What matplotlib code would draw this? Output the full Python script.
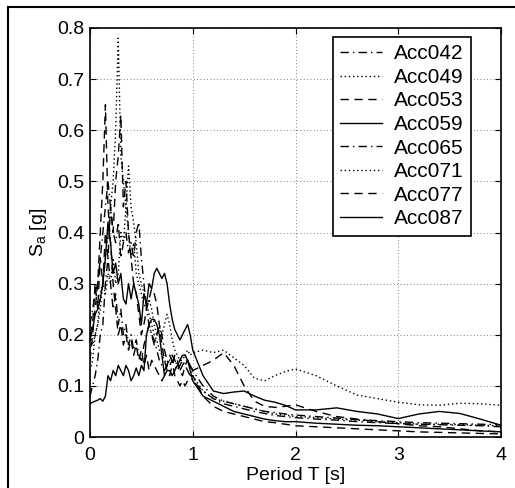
import matplotlib
matplotlib.use("Agg")
import matplotlib.pyplot as plt
from matplotlib.lines import Line2D

plt.rcParams['font.family'] = ['Liberation Sans', 'DejaVu Sans']

periods = [0.0, 0.025, 0.05, 0.075, 0.1, 0.125, 0.15, 0.175, 0.2, 0.225,
           0.25, 0.275, 0.3, 0.325, 0.35, 0.375, 0.4, 0.425, 0.45, 0.475,
           0.5, 0.525, 0.55, 0.575, 0.6, 0.625, 0.65, 0.675, 0.7, 0.725,
           0.75, 0.775, 0.8, 0.825, 0.85, 0.875, 0.9, 0.925, 0.95, 0.975, 1.0,
           1.1, 1.2, 1.3, 1.4, 1.5, 1.6, 1.7, 1.8, 1.9, 2.0,
           2.2, 2.4, 2.6, 2.8, 3.0, 3.2, 3.4, 3.6, 3.8, 4.0]

acc042 = [0.08, 0.10, 0.12, 0.15, 0.20, 0.22, 0.30, 0.35, 0.30, 0.25,
          0.28, 0.22, 0.25, 0.20, 0.22, 0.18, 0.20, 0.17, 0.19, 0.16,
          0.15, 0.18, 0.20, 0.22, 0.20, 0.19, 0.17, 0.15, 0.14, 0.13,
          0.14, 0.15, 0.16, 0.15, 0.14, 0.13, 0.14, 0.15, 0.15, 0.14, 0.13,
          0.10, 0.08, 0.07, 0.065, 0.06, 0.055, 0.05, 0.048, 0.045, 0.043,
          0.040, 0.037, 0.034, 0.032, 0.030, 0.028, 0.027, 0.026, 0.025, 0.024]

acc049 = [0.13, 0.15, 0.20, 0.22, 0.28, 0.30, 0.35, 0.40, 0.45, 0.50,
          0.60, 0.78, 0.55, 0.50, 0.45, 0.40, 0.35, 0.38, 0.32, 0.30,
          0.28, 0.26, 0.25, 0.27, 0.25, 0.22, 0.20, 0.21, 0.20, 0.22,
          0.24, 0.22, 0.19, 0.17, 0.16, 0.15, 0.15, 0.16, 0.15, 0.14, 0.12,
          0.09, 0.075, 0.07, 0.065, 0.06, 0.055, 0.05, 0.045, 0.043, 0.040,
          0.038, 0.035, 0.033, 0.030, 0.028, 0.025, 0.025, 0.024, 0.023, 0.022]

acc053 = [0.15, 0.20, 0.25, 0.30, 0.40, 0.50, 0.65, 0.45, 0.38, 0.30,
          0.25, 0.20, 0.22, 0.18, 0.20, 0.17, 0.19, 0.16, 0.18, 0.15,
          0.17, 0.14, 0.16, 0.13, 0.15, 0.14, 0.13, 0.12, 0.11, 0.12,
          0.14, 0.16, 0.15, 0.12, 0.11, 0.10, 0.11, 0.10, 0.11, 0.12, 0.12,
          0.08, 0.06, 0.05, 0.045, 0.04, 0.035, 0.03, 0.028, 0.025, 0.022,
          0.020, 0.018, 0.016, 0.014, 0.012, 0.010, 0.009, 0.008, 0.007, 0.006]

acc059 = [0.065, 0.068, 0.07, 0.072, 0.075, 0.07, 0.08, 0.12, 0.11, 0.13,
          0.12, 0.14, 0.13, 0.12, 0.14, 0.13, 0.11, 0.12, 0.135, 0.12,
          0.14, 0.13, 0.20, 0.22, 0.23, 0.23, 0.22, 0.20, 0.16, 0.12,
          0.13, 0.13, 0.12, 0.13, 0.14, 0.15, 0.16, 0.16, 0.15, 0.13, 0.11,
          0.08, 0.07, 0.06, 0.05, 0.045, 0.04, 0.035, 0.032, 0.030, 0.030,
          0.027, 0.025, 0.023, 0.022, 0.020, 0.018, 0.016, 0.014, 0.012, 0.010]

acc065 = [0.22, 0.25, 0.28, 0.30, 0.35, 0.40, 0.45, 0.50, 0.45, 0.40,
          0.38, 0.42, 0.35, 0.38, 0.40, 0.36, 0.38, 0.35, 0.40, 0.42,
          0.35, 0.30, 0.25, 0.22, 0.20, 0.18, 0.20, 0.22, 0.20, 0.17,
          0.15, 0.14, 0.15, 0.14, 0.13, 0.14, 0.15, 0.14, 0.13, 0.12, 0.11,
          0.09, 0.075, 0.065, 0.06, 0.055, 0.05, 0.046, 0.042, 0.040, 0.038,
          0.035, 0.033, 0.030, 0.028, 0.026, 0.025, 0.024, 0.023, 0.022, 0.020]

acc071 = [0.20, 0.18, 0.20, 0.22, 0.25, 0.30, 0.28, 0.32, 0.30, 0.35,
          0.30, 0.32, 0.40, 0.38, 0.45, 0.53, 0.45, 0.42, 0.38, 0.32,
          0.30, 0.28, 0.26, 0.24, 0.22, 0.20, 0.19, 0.17, 0.16, 0.15,
          0.14, 0.15, 0.16, 0.15, 0.14, 0.15, 0.16, 0.16, 0.17, 0.16, 0.165,
          0.17, 0.165, 0.17, 0.155, 0.14, 0.115, 0.11, 0.12, 0.128, 0.133,
          0.12, 0.10, 0.082, 0.075, 0.068, 0.063, 0.062, 0.066, 0.065, 0.062]

acc077 = [0.20, 0.22, 0.30, 0.25, 0.35, 0.30, 0.40, 0.35, 0.45, 0.40,
          0.50, 0.55, 0.63, 0.45, 0.50, 0.40, 0.35, 0.30, 0.28, 0.24,
          0.20, 0.22, 0.25, 0.27, 0.29, 0.28, 0.26, 0.22, 0.18, 0.15,
          0.13, 0.12, 0.14, 0.16, 0.15, 0.13, 0.12, 0.14, 0.15, 0.14, 0.13,
          0.14, 0.15, 0.165, 0.14, 0.10, 0.07, 0.06, 0.058, 0.060, 0.063,
          0.050, 0.040, 0.035, 0.030, 0.026, 0.022, 0.020, 0.016, 0.012, 0.010]

acc087 = [0.19, 0.21, 0.24, 0.25, 0.27, 0.30, 0.35, 0.42, 0.38, 0.32,
          0.34, 0.30, 0.32, 0.27, 0.26, 0.30, 0.27, 0.30, 0.28, 0.26,
          0.22, 0.28, 0.26, 0.30, 0.29, 0.32, 0.33, 0.32, 0.31, 0.32,
          0.30, 0.26, 0.23, 0.21, 0.20, 0.19, 0.20, 0.21, 0.22, 0.20, 0.17,
          0.12, 0.09, 0.085, 0.088, 0.09, 0.08, 0.072, 0.068, 0.062, 0.053,
          0.053, 0.057, 0.050, 0.045, 0.036, 0.045, 0.050, 0.046, 0.035, 0.023]

names = ['Acc042', 'Acc049', 'Acc053', 'Acc059', 'Acc065', 'Acc071', 'Acc077', 'Acc087']
series = [acc042, acc049, acc053, acc059, acc065, acc071, acc077, acc087]
dashdot = (0, (6, 3, 1, 3))
dotted = (0, (1, 2))
dashed = (0, (6, 4))
styles = [dashdot, dotted, dashed, '-', dashdot, dotted, dashed, '-']

xticks = [0, 1, 2, 3, 4]
yticks = [0, 0.1, 0.2, 0.3, 0.4, 0.5, 0.6, 0.7, 0.8]
ytick_labels = ['0', '0.1', '0.2', '0.3', '0.4', '0.5', '0.6', '0.7', '0.8']

W, H = 515, 488
fig = plt.figure(figsize=(W / 100, H / 100), dpi=100)
ax = fig.add_axes([90 / W, (H - 437) / H, 411 / W, 409 / H])

for vals, name, ls in zip(series, names, styles):
    ax.plot(periods, vals, color='black', linestyle=ls, linewidth=1.0, label=name)

ax.set_xlim(0, 4)
ax.set_ylim(0, 0.8)
ax.set_xticks(xticks)
ax.set_xticklabels([str(t) for t in xticks])
ax.set_yticks(yticks)
ax.set_yticklabels(ytick_labels)
ax.grid(True, color='#555555', linestyle=(0, (1, 3)), linewidth=0.6)
ax.tick_params(direction='in', top=True, right=True, length=4, labelsize=14)
ax.tick_params(axis='x', pad=7)
ax.tick_params(axis='y', pad=4)
for s in ax.spines.values():
    s.set_linewidth(1.2)

ax.set_xlabel('Period T [s]', fontsize=14, labelpad=2)
ax.set_ylabel('S$_\\mathregular{a}$ [g]', fontsize=14, labelpad=6)

leg = ax.legend(loc='upper right', bbox_to_anchor=((471 - 90) / 411, (437 - 37) / 409),
                borderaxespad=0, fontsize=15, handlelength=2.0, handletextpad=0.6,
                labelspacing=0.22, fancybox=False, framealpha=1, edgecolor='black',
                borderpad=0.35)
leg.get_frame().set_linewidth(1.2)

# outer frame lines (left and top)
fig.add_artist(Line2D([8 / W, 8 / W], [0, 1 - 7 / H], transform=fig.transFigure,
                      color='black', linewidth=1.5))
fig.add_artist(Line2D([8 / W, 1], [1 - 7 / H, 1 - 7 / H], transform=fig.transFigure,
                      color='black', linewidth=1.5))

fig.savefig('out.png', dpi=100)
